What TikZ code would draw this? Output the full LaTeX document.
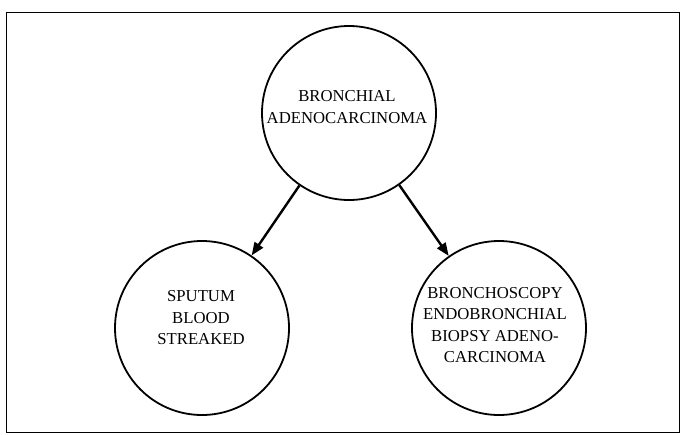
\documentclass[tikz,border=0pt]{standalone}
\usepackage{fontspec}
\setmainfont{Liberation Serif}
\usetikzlibrary{arrows.meta}
\begin{document}
\begin{tikzpicture}[x=1pt,y=-1pt,
  bubble/.style={draw=black,line width=1.8pt,circle,minimum size=174pt,inner sep=0pt},
  lbl/.style={align=center,font=\fontsize{16.7}{21.5}\selectfont,inner sep=0pt},
  link/.style={line width=2.4pt,-{Triangle[length=13pt,width=10pt]},shorten <=0pt,shorten >=0pt}]
\useasboundingbox (0,0) rectangle (683,434);
\node[draw=black,line width=1.1pt,minimum width=673pt,minimum height=420pt,inner sep=0pt,anchor=north west] (frame) at (6,12) {};
\node[bubble] (top) at (349,113) {};
\node[bubble] (left) at (202,328) {};
\node[bubble] (right) at (499,328) {};
\node[lbl] (ttop) at (347,107) {BRONCHIAL\\ADENOCARCINOMA};
\node[lbl] (tleft) at (201,318) {SPUTUM\\BLOOD\\STREAKED};
\node[lbl] (tright) at (495,325) {BRONCHOSCOPY\\ENDOBRONCHIAL\\BIOPSY ADENO-\\CARCINOMA};
\draw[link] (top) -- (left);
\draw[link] (top) -- (right);
\end{tikzpicture}
\end{document}
